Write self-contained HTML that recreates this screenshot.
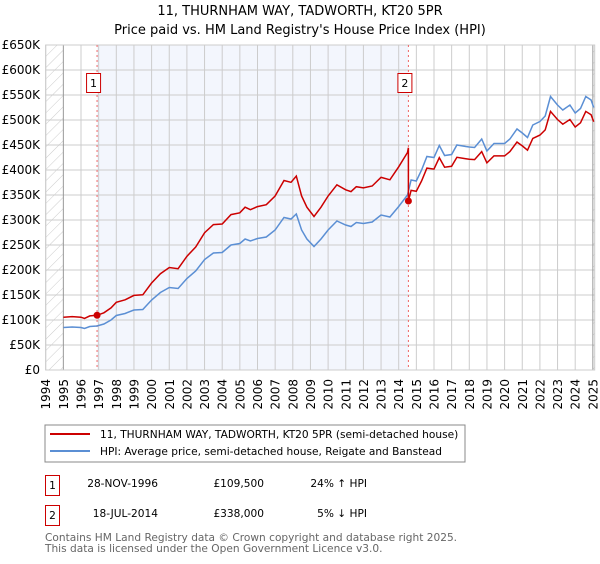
<!DOCTYPE html>
<html><head><meta charset="utf-8"><style>
body{margin:0;background:#fff;width:600px;height:560px;overflow:hidden;font-family:"DejaVu Sans","Liberation Sans",sans-serif;}
svg text{font-family:"DejaVu Sans","Liberation Sans",sans-serif;}
</style></head><body>
<svg id="chart" width="600" height="560" xmlns="http://www.w3.org/2000/svg">
<defs><pattern id="hatch" width="8" height="8" patternUnits="userSpaceOnUse" patternTransform="rotate(45)"><line x1="0" y1="0" x2="0" y2="8" stroke="#ccc" stroke-width="1"/></pattern></defs>
<text x="300" y="15" text-anchor="middle" font-size="13">11, THURNHAM WAY, TADWORTH, KT20 5PR</text>
<text x="300" y="34" text-anchor="middle" font-size="13">Price paid vs. HM Land Registry's House Price Index (HPI)</text>
<g id="plot"></g>
<g>
<rect x="45" y="425" width="420" height="37" fill="#fff" stroke="#888"/>
<line x1="50" y1="434" x2="90" y2="434" stroke="#cc0000" stroke-width="2"/>
<text x="100" y="438" font-size="10.6">11, THURNHAM WAY, TADWORTH, KT20 5PR (semi-detached house)</text>
<line x1="50" y1="451" x2="90" y2="451" stroke="#5b8fd4" stroke-width="2"/>
<text x="100" y="455" font-size="10.6">HPI: Average price, semi-detached house, Reigate and Banstead</text>
</g>
<g font-size="10.6">
<rect x="45.5" y="475.5" width="14" height="20" fill="#fff" stroke="#cc0000"/>
<text x="52.5" y="489" text-anchor="middle">1</text>
<text x="158" y="487" text-anchor="end">28-NOV-1996</text>
<text x="264" y="487" text-anchor="end">£109,500</text>
<text x="367" y="487" text-anchor="end">24% ↑ HPI</text>
</g>
<g font-size="10.6">
<rect x="45.5" y="505.5" width="14" height="20" fill="#fff" stroke="#cc0000"/>
<text x="52.5" y="519" text-anchor="middle">2</text>
<text x="158" y="517" text-anchor="end">18-JUL-2014</text>
<text x="264" y="517" text-anchor="end">£338,000</text>
<text x="367" y="517" text-anchor="end">5% ↓ HPI</text>
</g>
<text x="45" y="541" font-size="10.6" fill="#666">Contains HM Land Registry data © Crown copyright and database right 2025.</text>
<text x="45" y="552" font-size="10.6" fill="#666">This data is licensed under the Open Government Licence v3.0.</text>
</svg>
<script>
const hpiYears=[1995,1995.5,1996,1996.2,1996.5,1996.9,1997.3,1997.7,1998,1998.5,1999,1999.5,2000,2000.5,2001,2001.5,2002,2002.5,2003,2003.5,2004,2004.5,2005,2005.3,2005.6,2006,2006.5,2007,2007.5,2007.9,2008.2,2008.5,2008.8,2009.2,2009.6,2010,2010.5,2011,2011.3,2011.6,2012,2012.5,2013,2013.5,2014,2014.5,2014.7,2015,2015.3,2015.6,2016,2016.3,2016.6,2017,2017.3,2017.8,2018,2018.3,2018.7,2019,2019.4,2020,2020.3,2020.7,2021,2021.3,2021.6,2022,2022.3,2022.6,2023,2023.3,2023.7,2024,2024.3,2024.6,2024.9,2025.05];
const hpiValues=[85,86,85,83,87,88,92,100,109,113,120,121,140,155,165,163,183,198,221,234,235,250,253,262,258,263,266,280,305,302,312,280,262,247,262,280,298,290,287,295,293,296,310,306,327,350,380,378,400,427,425,449,429,431,450,447,446,445,462,438,453,453,462,482,474,465,490,497,508,547,530,520,530,514,523,547,540,525];
const saleYears=[1996.91,2014.55];
const salePrices=[109.5,338];
const yTicks=[0,50,100,150,200,250,300,350,400,450,500,550,600,650];
const xTicks=[1994,1995,1996,1997,1998,1999,2000,2001,2002,2003,2004,2005,2006,2007,2008,2009,2010,2011,2012,2013,2014,2015,2016,2017,2018,2019,2020,2021,2022,2023,2024,2025];

const X0=45.7,PX=17.65,Y0=370,PY=0.5,XMAX=594.7,YTOP=45;
const sx=y=>X0+(y-1994)*PX, sy=v=>Y0-v*PY;
const NS='http://www.w3.org/2000/svg';
const g=document.getElementById('plot');
function mk(t,a,p){const e=document.createElementNS(NS,t);for(const k in a)e.setAttribute(k,a[k]);(p||g).appendChild(e);return e;}
function hpiAt(y){for(let i=0;i<hpiYears.length-1;i++){if(y>=hpiYears[i]&&y<=hpiYears[i+1]){const f=(y-hpiYears[i])/(hpiYears[i+1]-hpiYears[i]);return hpiValues[i]+f*(hpiValues[i+1]-hpiValues[i]);}}return hpiValues[hpiValues.length-1];}

mk('rect',{x:X0,y:YTOP,width:XMAX-X0,height:Y0-YTOP,fill:'#fff'});
const shade=mk('rect',{x:sx(saleYears[0]),y:YTOP,width:sx(saleYears[1])-sx(saleYears[0]),height:Y0-YTOP,fill:'#f3f6fd'});


mk('rect',{x:X0,y:YTOP,width:sx(1995)-X0,height:Y0-YTOP,fill:'url(#hatch)'});
mk('rect',{x:sx(2025),y:YTOP,width:XMAX-sx(2025),height:Y0-YTOP,fill:'url(#hatch)'});
yTicks.forEach(v=>{
 mk('line',{x1:X0,x2:XMAX,y1:sy(v),y2:sy(v),stroke:'#ccc'});
 const t=mk('text',{x:40,y:sy(v)+4,'text-anchor':'end','font-size':12});
 t.textContent='£'+(v===0?'0':v+'K');
 
 
});
xTicks.forEach(y=>{
 mk('line',{x1:sx(y),x2:sx(y),y1:YTOP,y2:Y0,stroke:(y===1995||y===2025)?'#999':'#ccc'});
 const t=mk('text',{x:0,y:0,'font-size':12,'text-anchor':'end',transform:`translate(${sx(y)+4.5},379) rotate(-90)`});
 t.textContent=y;
 
 
});
mk('rect',{x:X0,y:YTOP,width:XMAX-X0,height:Y0-YTOP,fill:'none',stroke:'#ccc'});
saleYears.forEach((y,i)=>{
 const l=mk('line',{x1:sx(y),x2:sx(y),y1:YTOP,y2:Y0,stroke:'#e66','stroke-dasharray':'2,3'});
 
 
 const b=mk('rect',{x:sx(y)-10.5,y:73.5,width:14,height:19,fill:'#fff',stroke:'#cc0000'});
 
 
 const t=mk('text',{x:sx(y)-3.5,y:87,'text-anchor':'middle','font-size':11});
 t.textContent=String(i+1);
});
let d='';hpiYears.forEach((y,i)=>{d+=(i?'L':'M')+sx(y).toFixed(1)+','+sy(hpiValues[i]).toFixed(1);});
const hp=mk('path',{d:d,fill:'none',stroke:'#5b8fd4','stroke-width':1.5});


const r1=salePrices[0]/hpiAt(saleYears[0]), r2=salePrices[1]/hpiAt(saleYears[1]);
let pts=[];
hpiYears.forEach((y,i)=>{ if(y<saleYears[1]) pts.push([y,hpiValues[i]*r1]); });
pts.push([saleYears[1],hpiAt(saleYears[1])*r1]);
pts.push([saleYears[1],salePrices[1]]);
hpiYears.forEach((y,i)=>{ if(y>saleYears[1]) pts.push([y,hpiValues[i]*r2]); });
let d2='';pts.forEach((p,i)=>{d2+=(i?'L':'M')+sx(p[0]).toFixed(1)+','+sy(p[1]).toFixed(1);});
const rp=mk('path',{d:d2,fill:'none',stroke:'#cc0000','stroke-width':1.5});


saleYears.forEach((y,i)=>{
 const c=mk('circle',{cx:sx(y),cy:sy(salePrices[i]),r:3.5,fill:'#cc0000'});
 
 
});
</script>
</body></html>
